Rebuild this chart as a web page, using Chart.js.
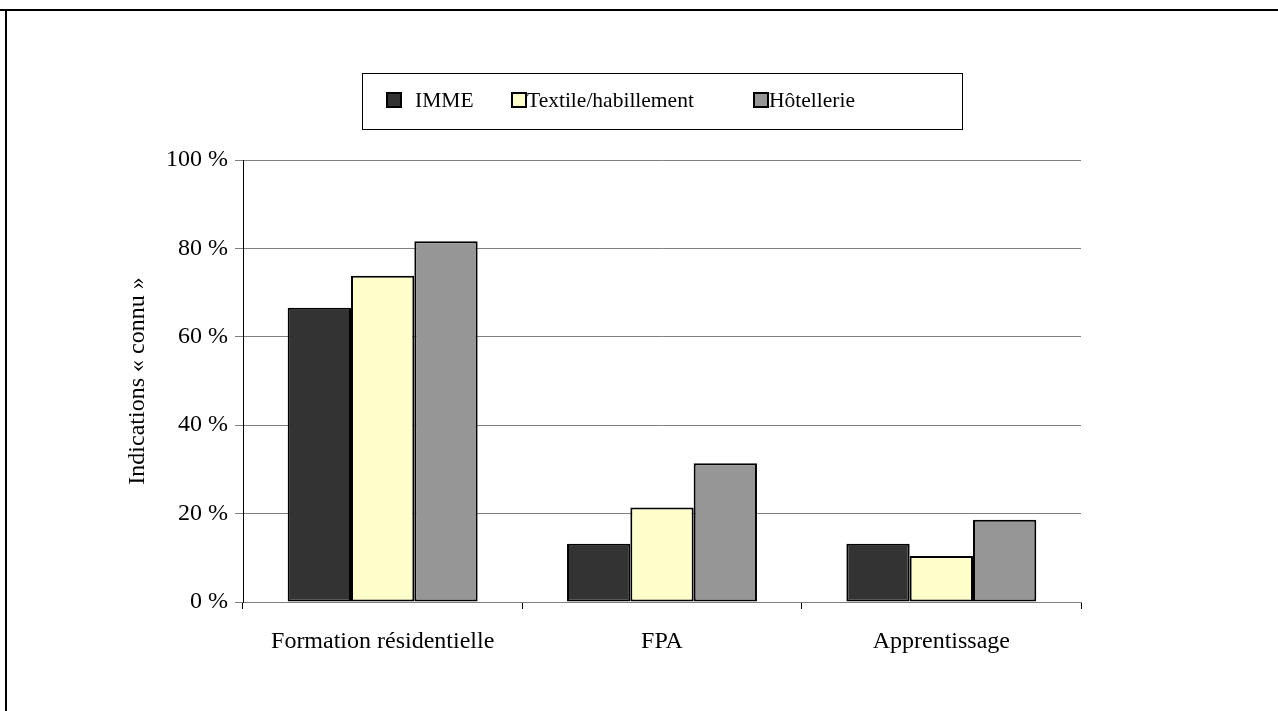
<!DOCTYPE html>
<html>
<head>
<meta charset="utf-8">
<script src="https://cdn.jsdelivr.net/npm/chart.js@4.4.0/dist/chart.umd.min.js"></script>
<style>
    html, body { margin: 0; padding: 0; background: #fff; }
    #wrap { position: relative; width: 1278px; height: 711px; }
</style>
</head>
<body>
<div id="wrap"><canvas id="chart"></canvas></div>
<script>
// Data
const categories = ['Formation résidentielle', 'FPA', 'Apprentissage'];
const seriesNames = ['IMME', 'Textile/habillement', 'Hôtellerie'];
const immeValues = [66.6, 13.2, 13.2];
const textileValues = [73.8, 21.4, 10.4];
const hotelValues = [81.6, 31.4, 18.6];
const yTicks = [0, 20, 40, 60, 80, 100];
const yTitle = 'Indications « connu »';

const FONT = "'Liberation Serif', 'Times New Roman', serif";

// Frame lines round the figure
const framePlugin = {
    id: 'frame',
    beforeDraw(chart) {
        const ctx = chart.ctx;
        ctx.save();
        ctx.fillStyle = '#000';
        ctx.fillRect(0, 9, chart.width, 2);
        ctx.fillRect(5, 9, 2, chart.height - 9);
        ctx.restore();
    }
};

// Boxed legend like the original
const boxLegend = {
    id: 'boxLegend',
    afterDraw(chart, args, opts) {
        const ctx = chart.ctx;
        ctx.save();
        ctx.strokeStyle = '#000';
        ctx.lineWidth = 1;
        ctx.strokeRect(opts.x + 0.5, opts.y + 0.5, opts.w, opts.h);
        ctx.font = '21.5px ' + FONT;
        ctx.textBaseline = 'middle';
        chart.data.datasets.forEach((ds, i) => {
            const it = opts.items[i];
            ctx.fillStyle = ds.backgroundColor;
            ctx.fillRect(it.sq, opts.sqY, 14, 14);
            ctx.strokeStyle = '#000';
            ctx.lineWidth = 2;
            ctx.strokeRect(it.sq, opts.sqY, 14, 14);
            ctx.fillStyle = '#000';
            ctx.fillText(ds.label, it.tx, opts.sqY + 8);
        });
        ctx.restore();
    }
};

function makeDataset(label, data, color) {
    return {
        label: label,
        data: data,
        backgroundColor: color,
        borderColor: '#000',
        borderWidth: 2,
        borderSkipped: false,
        categoryPercentage: 0.68,
        barPercentage: 1.0
    };
}

const chart = new Chart(document.getElementById('chart'), {
    type: 'bar',
    data: {
        labels: categories,
        datasets: [
            makeDataset(seriesNames[0], immeValues, '#333333'),
            makeDataset(seriesNames[1], textileValues, '#FFFFCC'),
            makeDataset(seriesNames[2], hotelValues, '#969696')
        ]
    },
    plugins: [framePlugin, boxLegend],
    options: {
        responsive: true,
        maintainAspectRatio: false,
        animation: false,
        layout: { padding: { left: 119, top: 160, right: 197, bottom: 0 } },
        plugins: {
            legend: { display: false },
            tooltip: { enabled: false },
            boxLegend: {
                x: 362, y: 73, w: 600, h: 56, sqY: 93,
                items: [{ sq: 387, tx: 415 }, { sq: 512, tx: 527 }, { sq: 754, tx: 769 }]
            }
        },
        scales: {
            x: {
                grid: {
                    offset: true,
                    drawOnChartArea: false,
                    drawTicks: true,
                    tickLength: 7,
                    color: '#000'
                },
                border: { color: '#808080', width: 1 },
                ticks: {
                    color: '#000',
                    padding: 18,
                    maxRotation: 0,
                    font: { family: FONT, size: 24 }
                },
                afterFit(scale) { scale.height = 109; }
            },
            y: {
                min: 0,
                max: 100,
                afterBuildTicks(scale) {
                    scale.ticks = yTicks.map(v => ({ value: v }));
                },
                grid: { color: '#808080', lineWidth: 1, tickLength: 8 },
                border: { color: '#000', width: 1 },
                ticks: {
                    color: '#000',
                    padding: 7,
                    font: { family: FONT, size: 24 },
                    callback: v => v + ' %'
                },
                title: {
                    display: true,
                    text: yTitle,
                    color: '#000',
                    align: 'center',
                    padding: { top: 4, bottom: 0 },
                    font: { family: FONT, size: 24 }
                },
                afterFit(scale) { scale.width = 124; }
            }
        }
    }
});
</script>
</body>
</html>
